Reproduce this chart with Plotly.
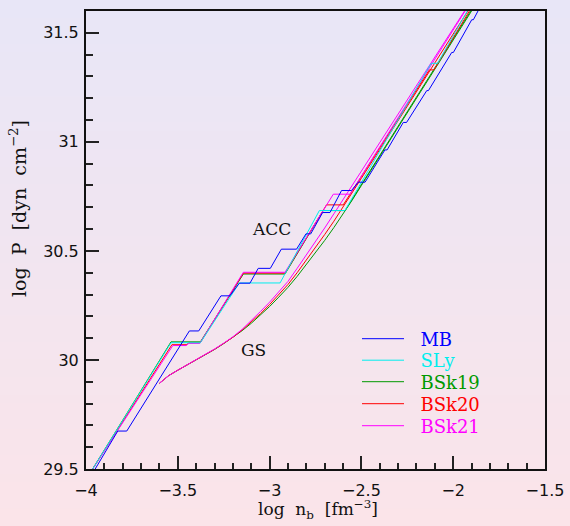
import plotly.graph_objects as go

# ---------------- data (log n_b [fm^-3], log P [dyn cm^-2]) ----------------
# Accreted crust (ACC) curves
mb_x = [-3.950, -3.827, -3.778, -3.437, -3.386, -3.265, -3.216, -3.165, -3.107, -3.062, -2.996,
        -2.936, -2.853, -2.802, -2.776, -2.711, -2.671, -2.608, -2.554, -2.517, -2.480, -2.372,
        -2.360, -2.272, -2.254, -2.144, -2.135, -2.008, -1.999, -1.899, -1.890, -1.865]
mb_y = [29.500, 29.674, 29.674, 30.133, 30.133, 30.294, 30.294, 30.352, 30.352, 30.420, 30.420,
        30.508, 30.508, 30.578, 30.578, 30.676, 30.676, 30.777, 30.777, 30.815, 30.815, 30.963,
        30.963, 31.089, 31.089, 31.235, 31.235, 31.410, 31.410, 31.560, 31.560, 31.600]

sly_x = [-3.964, -3.537, -3.377, -3.165, -2.943, -2.816, -2.729, -2.590, -2.120, -2.085, -1.923]
sly_y = [29.500, 30.079, 30.079, 30.353, 30.353, 30.550, 30.685, 30.685, 31.360, 31.360, 31.600]

bsk19_x = [-3.964, -3.537, -3.377, -3.143, -2.916, -2.708, -2.589, -1.905]
bsk19_y = [29.500, 30.083, 30.083, 30.394, 30.394, 30.685, 30.685, 31.600]

bsk20_x = [-3.964, -3.532, -3.450, -3.440, -3.377, -3.143, -2.916, -2.690, -2.599, -2.130, -2.105, -1.912]
bsk20_y = [29.500, 30.070, 30.070, 30.080, 30.080, 30.398, 30.398, 30.711, 30.711, 31.330, 31.330, 31.600]

bsk21_x = [-3.964, -3.527, -3.455, -3.440, -3.380, -3.143, -2.916, -2.653, -2.562, -1.935]
bsk21_y = [29.500, 30.066, 30.066, 30.076, 30.076, 30.402, 30.402, 30.760, 30.760, 31.600]

# Ground-state (GS) curves
gs_x = [-3.60, -3.55, -3.50, -3.45, -3.40, -3.35, -3.30, -3.25, -3.20, -3.15, -3.10, -3.05,
        -3.00, -2.95, -2.90, -2.85, -2.80, -2.75, -2.70, -2.65, -2.60, -2.55, -2.50, -2.40,
        -2.30, -2.20, -2.10, -2.00, -1.90]
gs19_y = [29.893, 29.928, 29.953, 29.977, 30.000, 30.023, 30.048, 30.075, 30.103, 30.134, 30.168,
          30.205, 30.245, 30.288, 30.333, 30.383, 30.437, 30.492, 30.548, 30.607, 30.668, 30.733,
          30.800, 30.933, 31.067, 31.200, 31.333, 31.467, 31.600]
gs20_y = [29.893, 29.928, 29.953, 29.977, 30.000, 30.024, 30.049, 30.076, 30.104, 30.137, 30.173,
          30.212, 30.254, 30.298, 30.346, 30.400, 30.457, 30.515, 30.575, 30.636, 30.700, 30.765,
          30.833, 30.965, 31.098, 31.230, 31.362, 31.495, 31.627]
gs21_y = [29.893, 29.928, 29.953, 29.977, 30.000, 30.024, 30.050, 30.077, 30.106, 30.140, 30.180,
          30.222, 30.265, 30.310, 30.360, 30.420, 30.480, 30.540, 30.605, 30.670, 30.735, 30.800,
          30.870, 31.000, 31.130, 31.260, 31.390, 31.520, 31.650]

names = ["MB", "SLy", "BSk19", "BSk20", "BSk21"]
colors = {"MB": "#0000FF", "SLy": "#00EEEE", "BSk19": "#009900", "BSk20": "#FF0000", "BSk21": "#FF00FF"}

x_ticks = [-4, -3.5, -3, -2.5, -2, -1.5]
y_ticks = [29.5, 30, 30.5, 31, 31.5]

# ---------------- figure ----------------
W, H = 570, 526
ml, mr, mt, mb_ = 86, 25, 11, 57
pw, ph = W - ml - mr, H - mt - mb_

SERIF = "DejaVu Serif, Liberation Serif, serif"
SANS = "DejaVu Sans, Liberation Sans, sans-serif"

def px_to_paper_y(py):
    return (H - mb_ - py) / ph

def px_to_paper_x(px):
    return (px - ml) / pw

fig = go.Figure()

# GS curves (no legend)
for yy, nm in [(gs19_y, "BSk19"), (gs20_y, "BSk20"), (gs21_y, "BSk21")]:
    fig.add_trace(go.Scatter(x=gs_x, y=yy, mode="lines", line=dict(color=colors[nm], width=1),
                             showlegend=False, hoverinfo="skip"))

# ACC curves, each with its own small legend row
acc = {"MB": (mb_x, mb_y), "SLy": (sly_x, sly_y), "BSk19": (bsk19_x, bsk19_y),
       "BSk20": (bsk20_x, bsk20_y), "BSk21": (bsk21_x, bsk21_y)}
legend_ids = ["legend", "legend2", "legend3", "legend4", "legend5"]
for nm in ["BSk19", "BSk20", "BSk21", "SLy", "MB"]:
    xx, yy = acc[nm]
    fig.add_trace(go.Scatter(
        x=xx, y=yy, mode="lines", line=dict(color=colors[nm], width=1),
        name="\u00a0\u00a0" + nm, legend=legend_ids[names.index(nm)], hoverinfo="skip"))

# background gradient (lavender top -> pink bottom)
top_c = (232, 230, 247)
bot_c = (251, 228, 233)
N = 60
y_lo = -mb_ / ph
y_hi = 1 + mt / ph
x_lo = -ml / pw
x_hi = 1 + mr / pw
shapes = []
for i in range(N):
    f = (i + 0.5) / N
    c = tuple(round(bot_c[k] + (top_c[k] - bot_c[k]) * f) for k in range(3))
    y0 = y_lo + (y_hi - y_lo) * i / N
    y1 = y_lo + (y_hi - y_lo) * (i + 1) / N + 0.002
    shapes.append(dict(type="rect", xref="paper", yref="paper", x0=x_lo - 0.01, x1=x_hi + 0.01,
                       y0=y0, y1=y1, fillcolor="rgb(%d,%d,%d)" % c, line=dict(width=0),
                       layer="below"))

tick_style = dict(ticks="inside", ticklen=13, tickwidth=1.6, tickcolor="#222222",
                  showgrid=False, zeroline=False)
minor_style = dict(ticks="inside", ticklen=6.5, dtick=0.1, tickwidth=1.6,
                   tickcolor="#222222", showgrid=False)
tickfont = dict(family=SANS, size=16, color="#111111")

layout_legends = {}
row_y = [339, 360.5, 382, 404, 426]
for lid, nm, ry in zip(legend_ids, names, row_y):
    layout_legends[lid] = dict(
        x=px_to_paper_x(357), y=px_to_paper_y(ry), xanchor="left", yanchor="middle",
        bgcolor="rgba(0,0,0,0)", borderwidth=0, itemwidth=42,
        font=dict(family=SERIF, size=18, color=colors[nm]))

fig.update_layout(
    width=W, height=H,
    margin=dict(l=ml, r=mr, t=mt, b=mb_, pad=0, autoexpand=False),
    paper_bgcolor="rgba(0,0,0,0)", plot_bgcolor="rgba(0,0,0,0)",
    shapes=shapes,
    xaxis=dict(range=[-4, -1.5], tickvals=x_ticks, showline=True, linecolor="#111111",
               linewidth=2, mirror=True, ticklabelstandoff=6, tickfont=tickfont,
               minor=dict(tick0=-4, **minor_style), **tick_style),
    yaxis=dict(range=[29.5, 31.6], tickvals=y_ticks, showline=True, linecolor="#111111",
               linewidth=2, mirror=True, ticklabelstandoff=2, tickfont=tickfont,
               minor=dict(tick0=29.5, **minor_style), **tick_style),
    xaxis2=dict(range=[-4, -1.5], overlaying="x", side="top", anchor="y", tickvals=x_ticks,
                showticklabels=False, showline=False,
                minor=dict(tick0=-4, **minor_style), **tick_style),
    yaxis2=dict(range=[29.5, 31.6], overlaying="y", side="right", anchor="x", tickvals=y_ticks,
                showticklabels=False, showline=False,
                minor=dict(tick0=29.5, **minor_style), **tick_style),
    annotations=[
        dict(text="ACC", x=-2.99, y=30.60, xref="x", yref="y", showarrow=False,
             font=dict(family=SERIF, size=17, color="#111111")),
        dict(text="GS", x=-3.09, y=30.045, xref="x", yref="y", showarrow=False,
             font=dict(family=SERIF, size=17, color="#111111")),
        dict(text="log  P  [dyn  cm<sup>−2</sup>]", x=px_to_paper_x(18), y=px_to_paper_y(209),
             xref="paper", yref="paper", textangle=-90, showarrow=False,
             xanchor="center", yanchor="middle",
             font=dict(family=SERIF, size=19, color="#111111")),
        dict(text="log  n<sub>b</sub>  [fm<sup>−3</sup>]", x=px_to_paper_x(318), y=px_to_paper_y(509),
             xref="paper", yref="paper", showarrow=False, xanchor="center", yanchor="middle",
             font=dict(family=SERIF, size=17, color="#111111")),
    ],
    showlegend=True,
    **layout_legends,
)

fig.write_html("out.html", config={"displayModeBar": False},
               post_script="document.body.style.margin='0px';document.body.style.overflow='hidden';")
